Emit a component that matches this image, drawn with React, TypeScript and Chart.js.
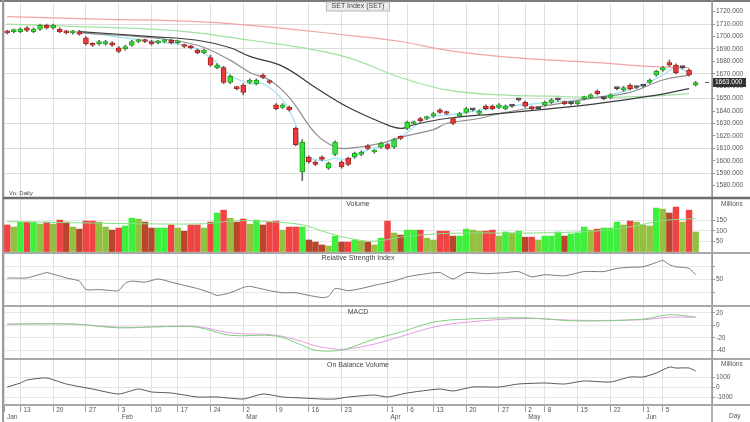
import React, { useEffect, useRef } from 'react';
import { Chart, registerables } from 'chart.js';

Chart.register(...registerables);

const FONT = "'Liberation Sans', Arial, sans-serif";

// ---------- price candles (one per trading day) ----------
const openP = [
  1704, 1704, 1704, 1707, 1704, 1706, 1709, 1707, 1706, 1704,
  1703, 1704, 1699, 1694, 1694, 1694, 1695, 1691, 1690, 1693,
  1696, 1697, 1696, 1695, 1696, 1697, 1695, 1693, 1692, 1689,
  1687, 1683, 1675, 1675, 1663, 1659, 1661, 1663, 1662, 1669,
  1664, 1645, 1643, 1643, 1626, 1591, 1603, 1599, 1603, 1594,
  1605, 1599, 1602, 1603, 1605, 1612, 1607, 1611, 1613, 1611,
  1619, 1626, 1630, 1634, 1634, 1636, 1641, 1639, 1634, 1636,
  1639, 1641, 1638, 1644, 1644, 1643, 1642, 1644, 1649, 1647,
  1643, 1642, 1645, 1647, 1649, 1647, 1646, 1646, 1650, 1651,
  1656, 1650, 1651, 1658, 1657, 1661, 1659, 1660, 1663, 1669,
  1673, 1679, 1677, 1675, 1673, 1661,
];
const highP = [
  1705, 1706, 1707, 1708, 1707, 1710, 1710, 1710, 1707, 1705,
  1705, 1705, 1700, 1695, 1697, 1697, 1696, 1692, 1693, 1697,
  1698, 1698, 1697, 1697, 1698, 1698, 1697, 1694, 1693, 1690,
  1690, 1685, 1678, 1676, 1669, 1660, 1662, 1666, 1666, 1670,
  1665, 1646, 1646, 1644, 1627, 1617, 1604, 1600, 1604, 1599,
  1616, 1600, 1603, 1607, 1608, 1613, 1609, 1615, 1614, 1618,
  1620, 1632, 1632, 1635, 1636, 1639, 1642, 1640, 1635, 1639,
  1643, 1642, 1641, 1645, 1645, 1646, 1645, 1645, 1650, 1648,
  1644, 1643, 1648, 1650, 1650, 1648, 1647, 1648, 1652, 1654,
  1657, 1651, 1654, 1659, 1660, 1662, 1660, 1661, 1666, 1673,
  1676, 1681, 1678, 1676, 1674, 1664,
];
const lowP = [
  1702, 1703, 1703, 1704, 1703, 1705, 1706, 1706, 1703, 1702,
  1702, 1701, 1693, 1692, 1693, 1693, 1692, 1687, 1689, 1692,
  1695, 1695, 1693, 1694, 1695, 1694, 1694, 1691, 1690, 1686,
  1686, 1676, 1674, 1662, 1662, 1657, 1653, 1662, 1661, 1666,
  1662, 1641, 1642, 1640, 1612, 1584, 1598, 1596, 1600, 1593,
  1604, 1594, 1596, 1602, 1604, 1609, 1606, 1610, 1609, 1610,
  1617, 1625, 1629, 1631, 1633, 1635, 1638, 1637, 1629, 1635,
  1638, 1640, 1637, 1641, 1641, 1642, 1641, 1643, 1648, 1643,
  1641, 1641, 1644, 1646, 1648, 1645, 1645, 1645, 1649, 1650,
  1653, 1649, 1650, 1657, 1656, 1657, 1658, 1659, 1662, 1668,
  1672, 1676, 1670, 1674, 1668, 1660,
];
const closeP = [
  1703, 1705, 1706, 1705, 1706, 1709, 1707, 1709, 1704, 1703,
  1704, 1702, 1694, 1693, 1696, 1696, 1693, 1688, 1692, 1696,
  1697, 1696, 1694, 1696, 1697, 1695, 1696, 1692, 1691, 1687,
  1689, 1677, 1677, 1663, 1668, 1658, 1655, 1665, 1665, 1667,
  1663, 1642, 1645, 1641, 1613, 1615, 1599, 1597, 1601, 1598,
  1615, 1595, 1597, 1606, 1607, 1610, 1608, 1614, 1610, 1617,
  1618, 1631, 1631, 1632, 1635, 1638, 1639, 1638, 1630, 1638,
  1642, 1641, 1640, 1642, 1642, 1645, 1644, 1644, 1649, 1644,
  1642, 1642, 1647, 1649, 1649, 1646, 1646, 1647, 1651, 1653,
  1654, 1650, 1653, 1658, 1659, 1658, 1659, 1660, 1665, 1672,
  1675, 1677, 1671, 1675, 1669, 1663,
];
const volume = [
  129, 119, 143, 143, 143, 133, 143, 133, 153, 143,
  119, 109, 148, 148, 143, 119, 104, 114, 124, 162,
  158, 143, 114, 114, 114, 129, 114, 99, 129, 129,
  114, 143, 187, 201, 162, 143, 158, 133, 153, 129,
  143, 148, 104, 119, 119, 119, 56, 46, 32, 27,
  75, 46, 46, 56, 51, 46, 32, 65, 148, 90,
  80, 104, 104, 104, 65, 56, 99, 99, 75, 75,
  109, 104, 99, 99, 104, 75, 95, 90, 99, 70,
  70, 56, 75, 75, 95, 75, 85, 90, 119, 104,
  109, 114, 114, 143, 129, 148, 143, 129, 124, 211,
  206, 187, 216, 143, 201, 95,
];

// ---------- moving averages (day index, value) ----------
const ma200Idx = [0, 14, 29, 37, 45, 52, 60, 67, 75, 83, 90, 98, 104];
const ma200Val = [1716, 1714, 1712, 1709, 1705, 1701, 1696, 1689, 1684, 1681, 1679, 1676, 1675];
const ma75Idx = [0, 11, 22, 29, 37, 45, 52, 60, 67, 75, 83, 90, 98, 104];
const ma75Val = [1710, 1708, 1706, 1703, 1697, 1691, 1683, 1667, 1657, 1653, 1652, 1651, 1652, 1654];
const ma25Idx = [11, 22, 29, 34, 37, 42, 47, 52, 57, 60, 62, 67, 75, 83, 90, 98, 104];
const ma25Val = [1704, 1700, 1697, 1691, 1684, 1676, 1659, 1643, 1631, 1626, 1629, 1634, 1638, 1642, 1646, 1652, 1658];
const ma10Idx = [11, 22, 29, 34, 37, 40, 43, 47, 50, 52, 57, 60, 65, 67, 72, 75, 83, 90, 95, 100, 104];
const ma10Val = [1703, 1699, 1693, 1681, 1671, 1665, 1651, 1622, 1611, 1610, 1614, 1619, 1625, 1630, 1634, 1638, 1645, 1651, 1655, 1665, 1669];
const ma5Idx = [11, 22, 28, 31, 34, 37, 39, 42, 44, 45, 48, 50, 52, 55, 58, 61, 64, 69, 75, 83, 90, 96, 100, 102, 104];
const ma5Val = [1704, 1696, 1692, 1683, 1669, 1662, 1662, 1649, 1629, 1606, 1600, 1602, 1601, 1609, 1613, 1623, 1634, 1638, 1643, 1647, 1651, 1659, 1669, 1675, 1671];

// ---------- volume average ----------
const volMaIdx = [0, 10, 20, 30, 35, 40, 45, 48, 52, 56, 60, 65, 70, 80, 90, 95, 100, 105];
const volMaVal = [145, 140, 135, 135, 150, 145, 130, 100, 65, 50, 70, 85, 90, 90, 100, 120, 150, 160];

// ---------- RSI ----------
const rsiIdx = [0, 3, 6, 7, 9, 11, 12, 14, 16, 17, 18, 19, 21, 23, 25, 27, 29, 31, 32, 34, 36, 37, 40, 42, 44, 46, 48, 49, 50, 52, 54, 56, 59, 61, 64, 66, 68, 70, 73, 76, 78, 80, 82, 85, 88, 91, 93, 95, 97, 99, 100, 101, 102, 104, 105];
const rsiVal = [53, 53, 63, 60, 53, 47, 31, 31, 29, 29, 43, 47, 45, 51, 45, 39, 33, 25, 20, 25, 35, 37, 29, 25, 25, 20, 16, 18, 33, 29, 33, 39, 47, 55, 61, 63, 51, 63, 61, 63, 65, 55, 59, 57, 65, 65, 71, 73, 74, 82, 86, 78, 74, 71, 59];

// ---------- MACD ----------
const macdIdx = [0, 10, 17, 24, 29, 34, 41, 45, 47, 50, 52, 56, 60, 65, 70, 79, 87, 97, 101, 105];
const macdVal = [2, 2, -4, -2, -3, -16, -17, -32, -40, -41, -37, -22, -11, 5, 10, 12, 7, 10, 17, 13];
const signalVal = [2, 2, -3, -2, -2, -12, -16, -26, -33, -38, -38, -30, -18, -3, 5, 11, 8, 9, 13, 13];

// ---------- OBV (millions) ----------
const obvIdx = [0, 2, 3, 6, 9, 13, 17, 20, 22, 25, 29, 32, 36, 39, 42, 45, 48, 50, 52, 56, 58, 61, 66, 68, 71, 75, 78, 82, 85, 88, 92, 95, 97, 99, 101, 102, 104, 105];
const obvVal = [0, 400, 700, 900, 300, -200, -700, -200, -500, -600, -1000, -1000, -1200, -700, -1000, -1100, -1200, -1200, -1000, -800, -1000, -600, -200, -400, 0, 0, 300, 400, 300, 600, 500, 1000, 1000, 1400, 2000, 1900, 1900, 1600];

// ---------- axis ticks ----------
const xTickIdx = [-0.5, 2, 7, 12, 17, 22, 26, 31, 36, 41, 46, 51, 58, 61, 65, 70, 75, 79, 82, 87, 92, 97, 100];
const xTickDay = ['', '13', '20', '27', '3', '10', '17', '24', '2', '9', '16', '23', '1', '6', '13', '20', '27', '2', '8', '15', '22', '1', '5'];
const xTickMonth = ['Jan', '', '', '', 'Feb', '', '', '', 'Mar', '', '', '', 'Apr', '', '', '', '', 'May', '', '', '', 'Jun', ''];
const priceTicks = [1720, 1710, 1700, 1690, 1680, 1670, 1660, 1650, 1640, 1630, 1620, 1610, 1600, 1590, 1580];
const priceGridTicks = [1710, 1690, 1670, 1650, 1630, 1610, 1590];
const volTicks = [150, 100, 50];
const rsiTicks = [75, 50, 25];
const rsiTickLabels = ['', '50', ''];
const macdTicks = [20, 0, -20, -40];
const obvTicks = [1000, 0, -1000];

const pts = (idx: number[], vals: number[]) => idx.map((x, k) => ({ x, y: vals[k] }));
const days = closeP.map((_, i) => i);

const overlay = {
  id: 'overlay',
  afterDraw(chart: any) {
    const { ctx, chartArea: ca, scales: s } = chart;
    const W = chart.width;
    const H = chart.height;
    const line = (x1: number, y1: number, x2: number, y2: number, c: string, w: number) => {
      ctx.strokeStyle = c;
      ctx.lineWidth = w;
      ctx.beginPath();
      ctx.moveTo(x1, y1);
      ctx.lineTo(x2, y2);
      ctx.stroke();
    };
    ctx.save();
    line(0, 1, W, 1, '#7a7a7a', 2);
    line(3, 0, 3, H, '#9a9a9a', 2);
    line(ca.right, 0, ca.right, H, '#9a9a9a', 1.5);
    line(3, s.yP.bottom, W, s.yP.bottom, '#6e6e6e', 2.5);
    ['yV', 'yR', 'yM', 'yO'].forEach((id) => line(3, s[id].bottom, W, s[id].bottom, '#a8a8a8', 2));

    const cx = (ca.left + ca.right) / 2;
    ctx.font = `7px ${FONT}`;
    ctx.textAlign = 'center';
    ctx.textBaseline = 'middle';
    const t = 'SET Index (SET)';
    const tw = ctx.measureText(t).width;
    ctx.fillStyle = '#ececec';
    ctx.fillRect(cx - tw / 2 - 5, s.yP.top - 1, tw + 10, 9);
    ctx.strokeStyle = '#b5b5b5';
    ctx.lineWidth = 1;
    ctx.strokeRect(cx - tw / 2 - 5, s.yP.top - 1, tw + 10, 9);
    ctx.fillStyle = '#444';
    ctx.fillText(t, cx, s.yP.top + 3.5);
    ctx.fillText('Volume', cx, s.yV.top + 6);
    ctx.fillText('Relative Strength Index', cx, s.yR.top + 5);
    ctx.fillText('MACD', cx, s.yM.top + 6);
    ctx.fillText('On Balance Volume', cx, s.yO.top + 6);

    ctx.textAlign = 'left';
    ctx.font = `6px ${FONT}`;
    ctx.fillText('Vo: Daily', ca.left + 5, s.yP.bottom - 5);
    ctx.font = `6.5px ${FONT}`;
    ctx.fillStyle = '#555';
    ctx.fillText('Millions', ca.right + 9, s.yV.top + 6);
    ctx.fillText('Millions', ca.right + 9, s.yO.top + 5);
    ctx.fillText('Day', ca.right + 17, H - 6);

    const last = closeP[closeP.length - 1];
    const y = s.yP.getPixelForValue(last);
    ctx.fillStyle = '#333';
    ctx.fillRect(ca.right + 1, y - 4.5, 33, 9);
    ctx.fillStyle = '#fff';
    ctx.fillText(last.toFixed(3), ca.right + 3, y);
    line(ca.right - 7, y, ca.right - 3, y, '#555', 1);
    ctx.restore();
  },
};

function yScale(id: string, weight: number, min: number, max: number, ticks: number[], labels: (v: number, k: number) => string, gridColor: any) {
  return {
    type: 'linear',
    axis: 'y',
    position: 'right',
    stack: 'panels',
    stackWeight: weight,
    min,
    max,
    offset: false,
    afterBuildTicks: (sc: any) => {
      sc.ticks = ticks.map((v) => ({ value: v }));
    },
    afterFit: (sc: any) => {
      sc.width = 38;
      sc.paddingTop = 0;
      sc.paddingBottom = 0;
    },
    ticks: {
      autoSkip: false,
      padding: 1,
      color: '#555',
      font: { size: 6.5, family: FONT },
      callback: (v: number, k: number) => labels(v, k),
    },
    grid: { color: gridColor, tickColor: '#999', tickLength: 3, lineWidth: 1 },
    border: { display: true, color: '#999', width: 1 },
  };
}

function buildConfig(): any {
  const bodyColor = days.map((i) => (closeP[i] > openP[i] ? '#36e036' : closeP[i] < openP[i] ? '#ec3a3a' : '#6a4a4a'));
  const bodyBorder = days.map((i) => (closeP[i] > openP[i] ? '#1fa31f' : closeP[i] < openP[i] ? '#a82222' : '#444'));
  const volColor = days.map((i) => {
    const upDay = closeP[i] >= openP[i];
    const grew = i === 0 || volume[i] >= volume[i - 1];
    if (upDay) return grew ? '#3cf03c' : '#93c13f';
    return grew ? '#f04444' : '#b8452c';
  });
  const lineDs = (data: any[], yAxisID: string, color: string, width = 1, tension = 0.35, order = 5) => ({
    type: 'line',
    data,
    yAxisID,
    borderColor: color,
    borderWidth: width,
    pointRadius: 0,
    tension,
    fill: false,
    order,
  });
  return {
    type: 'bar',
    data: {
      datasets: [
        lineDs(pts(ma200Idx, ma200Val), 'yP', '#f2a4a4', 1.2, 0.4, 9),
        lineDs(pts(ma75Idx, ma75Val), 'yP', '#9fe29f', 1.2, 0.4, 9),
        lineDs(pts(ma25Idx, ma25Val), 'yP', '#3c3c3c', 1.2, 0.4, 8),
        lineDs(pts(ma10Idx, ma10Val), 'yP', '#8e8e8e', 1.2, 0.4, 8),
        lineDs(pts(ma5Idx, ma5Val), 'yP', '#a0e4ee', 1.3, 0.35, 8),
        {
          type: 'bar',
          data: days.map((i) => ({ x: i, y: [lowP[i], highP[i]] })),
          yAxisID: 'yP',
          barThickness: 1,
          backgroundColor: '#666',
          grouped: false,
          order: 2,
        },
        {
          type: 'bar',
          data: days.map((i) => ({ x: i, y: [Math.min(openP[i], closeP[i]), Math.max(openP[i], closeP[i])] })),
          yAxisID: 'yP',
          barThickness: 5,
          minBarLength: 2,
          backgroundColor: bodyColor,
          borderColor: bodyBorder,
          borderWidth: 1,
          borderSkipped: false,
          grouped: false,
          order: 1,
        },
        {
          type: 'bar',
          data: days.map((i) => ({ x: i, y: volume[i] })),
          yAxisID: 'yV',
          barThickness: 5.8,
          backgroundColor: volColor,
          borderWidth: 0,
          grouped: false,
          order: 6,
        },
        lineDs(pts(volMaIdx, volMaVal), 'yV', '#86e086', 1, 0.35, 0),
        lineDs(pts(rsiIdx, rsiVal), 'yR', '#7a7a7a', 1, 0.2, 5),
        lineDs(pts(macdIdx, macdVal), 'yM', '#7fd07f', 1, 0.35, 5),
        lineDs(pts(macdIdx, signalVal), 'yM', '#e49be4', 1, 0.35, 5),
        lineDs(pts(obvIdx, obvVal), 'yO', '#555', 1, 0.2, 5),
      ],
    },
    options: {
      responsive: false,
      animation: false,
      devicePixelRatio: 1,
      layout: { padding: { left: 4, top: 3, right: 0, bottom: 0 } },
      plugins: { legend: { display: false }, tooltip: { enabled: false } },
      scales: {
        x: {
          type: 'linear',
          position: 'bottom',
          min: -0.5,
          max: 107.5,
          offset: false,
          afterBuildTicks: (sc: any) => {
            sc.ticks = xTickIdx.map((v) => ({ value: v }));
          },
          afterFit: (sc: any) => {
            sc.height = 17;
            sc.paddingLeft = 0;
            sc.paddingRight = 0;
          },
          ticks: {
            autoSkip: false,
            maxRotation: 0,
            align: 'start',
            labelOffset: 3,
            padding: -6,
            color: '#555',
            font: { size: 6.5, family: FONT, lineHeight: 1.2 },
            callback: (_v: number, k: number) => [xTickDay[k], xTickMonth[k]],
          },
          grid: { color: '#e0e0e0', offset: false, tickLength: 7, tickColor: '#a0a0a0' },
          border: { display: false },
        },
        yP: yScale('yP', 195, 1570, 1727, priceTicks, (v) => v.toFixed(3),
          (c: any) => (c.tick && priceGridTicks.includes(c.tick.value) ? '#dcdcdc' : 'rgba(0,0,0,0)')),
        yV: yScale('yV', 55, -7, 260, volTicks, (v) => String(v), '#e6e6e6'),
        yR: yScale('yR', 53, 0, 100, rsiTicks, (_v, k) => rsiTickLabels[k], '#e6e6e6'),
        yM: yScale('yM', 53, -54, 31, macdTicks, (v) => String(v), '#e6e6e6'),
        yO: yScale('yO', 46, -1800, 2800, obvTicks, (v) => String(v), '#e6e6e6'),
      },
    },
    plugins: [overlay],
  };
}

export default function App() {
  const ref = useRef<HTMLCanvasElement>(null);
  useEffect(() => {
    document.body.style.margin = '0';
    const canvas = ref.current;
    if (!canvas) return;
    const chart = new Chart(canvas, buildConfig());
    return () => chart.destroy();
  }, []);
  return (
    <div style={{ width: 750, height: 422, overflow: 'hidden', background: '#fff' }}>
      <canvas ref={ref} width={750} height={422} style={{ display: 'block' }} />
    </div>
  );
}
